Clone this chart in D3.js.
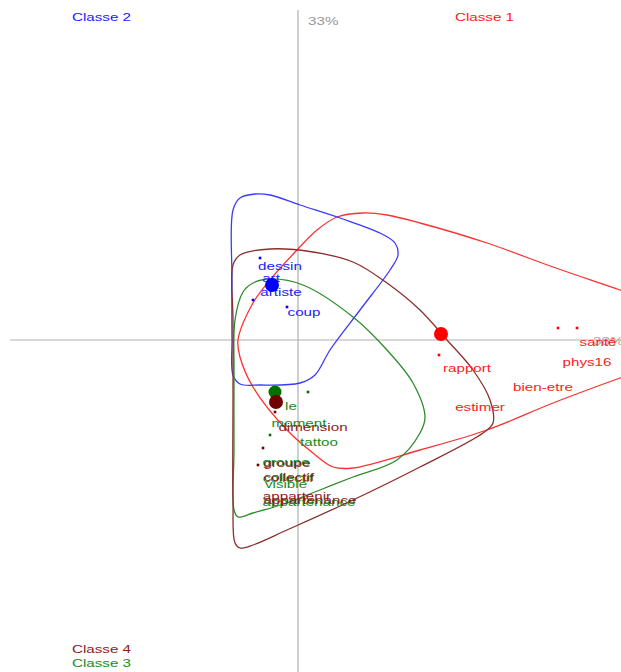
<!DOCTYPE html>
<html><head><meta charset="utf-8">
<script src="https://cdn.jsdelivr.net/npm/d3@7"></script>
<style>html,body{margin:0;padding:0;background:#fff;overflow:hidden}</style>
</head><body>
<svg id="chart" width="621" height="672"></svg>
<script>
// ---- data (factor coordinates) ----
const classNames = ["Classe 1", "Classe 2", "Classe 3", "Classe 4"];
const axisLabels = ["38%", "33%"];
// class centroids
const centroidX = [1.43, -0.26, -0.23, -0.22];
const centroidY = [0.06, 0.55, -0.52, -0.62];
// word labels
const wordText  = ["santé","phys16","bien-etre","rapport","estimer",
                   "dessin","art","artiste","coup",
                   "le","moment","tattoo","visible","groupe","collectif","appartenance",
                   "dimension","groupe","collectif","appartenir","appartenance"];
const wordX     = [3.00, 2.89, 2.45, 1.69, 1.82,
                   -0.18, -0.27, -0.17, 0.06,
                   -0.07, 0.01, 0.21, -0.12, -0.12, -0.10, 0.11,
                   0.15, -0.11, -0.09, -0.01, 0.12];
const wordY     = [-0.02, -0.22, -0.47, -0.28, -0.67,
                   0.74, 0.62, 0.48, 0.28,
                   -0.66, -0.83, -1.02, -1.44, -1.22, -1.38, -1.62,
                   -0.87, -1.23, -1.37, -1.56, -1.60];
const wordClass = [0,0,0,0,0, 1,1,1,1, 2,2,2,2,2,2,2, 3,3,3,3,3];
// small word points
const dotX     = [2.60, 2.79, 1.41, -0.38, -0.45, -0.11, 0.10, -0.28, -0.35, -0.40, -0.23];
const dotY     = [0.12, 0.12, -0.15, 0.82, 0.40, 0.33, -0.52, -0.95, -1.08, -1.25, -0.72];
const dotClass = [0,0,0, 1,1,1, 2,2, 3,3,3];
// class cloud contours
const loopRed = [[0.39,1.23],[0.65,1.27],[0.89,1.25],[1.22,1.17],[1.89,0.97],[2.55,0.73],[3.22,0.50],[3.82,0.29],[4.27,0.12],[4.27,0.00],[3.82,-0.17],[3.22,-0.38],[2.55,-0.63],[1.89,-0.90],[1.22,-1.10],[0.55,-1.28],[0.35,-1.27],[0.15,-1.13],[-0.11,-0.90],[-0.45,-0.47],[-0.58,-0.17],[-0.60,0.00],[-0.45,0.37],[-0.28,0.60],[-0.01,0.90],[0.19,1.10]];
const loopBlue = [[-0.65,1.30],[-0.58,1.42],[-0.43,1.46],[-0.28,1.45],[0.02,1.35],[0.42,1.22],[0.82,1.07],[0.97,0.97],[1.00,0.85],[0.92,0.70],[0.62,0.30],[0.32,-0.10],[0.17,-0.35],[0.02,-0.43],[-0.38,-0.45],[-0.58,-0.44],[-0.65,-0.35],[-0.66,0.00],[-0.66,0.60]];
const loopGreen = [[-0.45,0.57],[-0.28,0.61],[0.05,0.55],[0.55,0.23],[0.89,-0.10],[1.15,-0.43],[1.27,-0.77],[1.22,-0.93],[0.99,-1.20],[0.55,-1.37],[0.22,-1.50],[-0.11,-1.63],[-0.45,-1.73],[-0.60,-1.77],[-0.64,-1.70],[-0.64,-1.10],[-0.64,-0.30],[-0.63,0.20],[-0.55,0.48]];
const loopBrown = [[-0.65,0.75],[-0.58,0.85],[-0.28,0.91],[0.15,0.88],[0.55,0.78],[0.89,0.57],[1.22,0.30],[1.49,0.00],[1.75,-0.30],[1.92,-0.60],[1.95,-0.83],[1.85,-0.93],[1.22,-1.27],[0.55,-1.60],[-0.11,-1.90],[-0.45,-2.05],[-0.58,-2.08],[-0.63,-2.03],[-0.65,-1.60],[-0.65,-0.60],[-0.65,0.20]];
const loops = [loopRed, loopBlue, loopGreen, loopBrown];

// ---- styles ----
const textColors = ["#ff2020", "#2020ff", "#1a8a1a", "#8b1a1a"];
const lineColors = ["#ff3030", "#3a3aff", "#2e8b2e", "#8b2e2e"];
const dotColors  = ["#ff0000", "#0000ff", "#007000", "#700000"];

const svg = d3.select("#chart");
const W = 621, H = 672;
const x = d3.scaleLinear().domain([-2.98, 3.23]).range([0, W]);
const y = d3.scaleLinear().domain([3.40, -3.32]).range([0, H]);

function label(g, px, py, txt, color, anchor, size) {
  g.append("text")
    .attr("transform", `translate(${px},${py}) scale(1.38,1)`)
    .attr("text-anchor", anchor || "middle")
    .attr("dominant-baseline", "central")
    .attr("font-family", "Liberation Sans, Arial, sans-serif")
    .attr("font-size", size || 11)
    .attr("fill", color)
    .text(txt);
}

// axes
svg.append("line").attr("x1", x(0)).attr("x2", x(0)).attr("y1", 10).attr("y2", H)
  .attr("stroke", "#b0b0b0").attr("stroke-width", 1.2);
svg.append("line").attr("x1", 10).attr("x2", W).attr("y1", y(0)).attr("y2", y(0))
  .attr("stroke", "#b0b0b0").attr("stroke-width", 1.2);
const ag = svg.append("g");
label(ag, x(0) + 10, 21, axisLabels[1], "#999", "start");
label(ag, 593, y(0) + 1, axisLabels[0], "#aaa", "start");

// loops
const lineGen = d3.line().x(d => x(d[0])).y(d => y(d[1])).curve(d3.curveCatmullRomClosed.alpha(0.5));
svg.append("g").selectAll("path").data(loops).join("path")
  .attr("d", d => lineGen(d))
  .attr("fill", "none")
  .attr("stroke", (d, i) => lineColors[i])
  .attr("stroke-width", 1.3);

// small dots
svg.append("g").selectAll("rect").data(dotX).join("rect")
  .attr("x", (d, i) => x(d) - 1.3).attr("y", (d, i) => y(dotY[i]) - 1.3)
  .attr("width", 2.6).attr("height", 2.6)
  .attr("fill", (d, i) => dotColors[dotClass[i]]);

// words
const wg = svg.append("g");
wordText.forEach((t, i) => label(wg, x(wordX[i]), y(wordY[i]), t, textColors[wordClass[i]]));

// centroids
svg.append("g").selectAll("circle").data(centroidX).join("circle")
  .attr("cx", d => x(d)).attr("cy", (d, i) => y(centroidY[i]))
  .attr("r", (d, i) => [7, 7, 6.5, 7][i])
  .attr("fill", (d, i) => dotColors[i]);

// class labels
const cg = svg.append("g");
const classPos = [[455, 17], [72, 17], [72, 663], [72, 649]];
classNames.forEach((c, i) => label(cg, classPos[i][0], classPos[i][1], c, textColors[i], "start"));
</script>
</body></html>
